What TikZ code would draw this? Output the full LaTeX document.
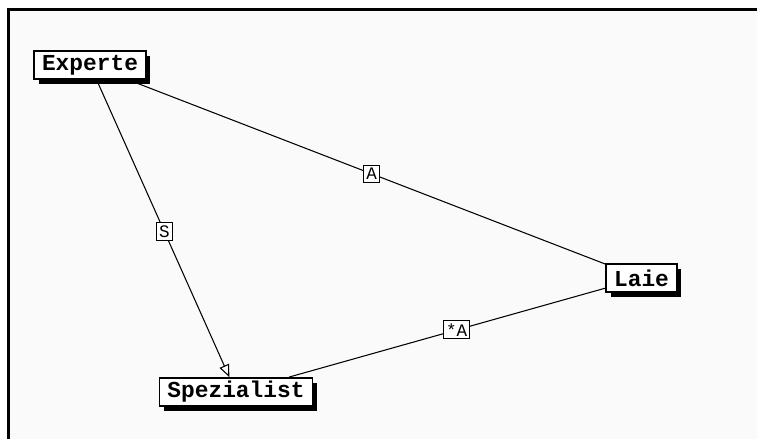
\documentclass[tikz,border=0pt]{standalone}
\usepackage{fontspec}
\newfontfamily\boxfont{Liberation Mono}
\usetikzlibrary{arrows,shadows}
\definecolor{paper}{HTML}{FAFAFA}
\tikzstyle{role}=[draw,rectangle,line width=1pt,fill=white,
  font=\boxfont\bfseries\fontsize{13}{13}\selectfont,
  inner xsep=4.5pt,inner ysep=0pt,minimum height=16pt,
  drop shadow={shadow xshift=2.6pt,shadow yshift=-3pt,fill=black,opacity=1}]
\tikzstyle{tag}=[draw,rectangle,line width=0.6pt,fill=white,
  font=\boxfont\fontsize{10}{10}\selectfont,inner sep=1.5pt,minimum height=9.5pt]

\begin{document}
\begin{tikzpicture}[x=0.02cm,y=-0.02cm,line width=0.6pt]
\useasboundingbox (0,0) rectangle (757,439);
\fill[paper] (8.5,9.5) rectangle (757,439);
\draw[line width=1.7pt] (8.5,439) -- (8.5,9.5) -- (757,9.5);

\node[role] (experte) at (90,65) {Experte};
\node[role] (laie) at (641.5,278) {Laie};
\node[role] (spez) at (236,392) {Spezialist};

\draw (experte) -- node[tag,pos=.51]{A} (laie);
\draw[-open triangle 45] (experte) -- node[tag,pos=.51]{S} (spez);
\draw (laie) -- node[tag,pos=.47]{*A} (spez);

\end{tikzpicture}
\end{document}
